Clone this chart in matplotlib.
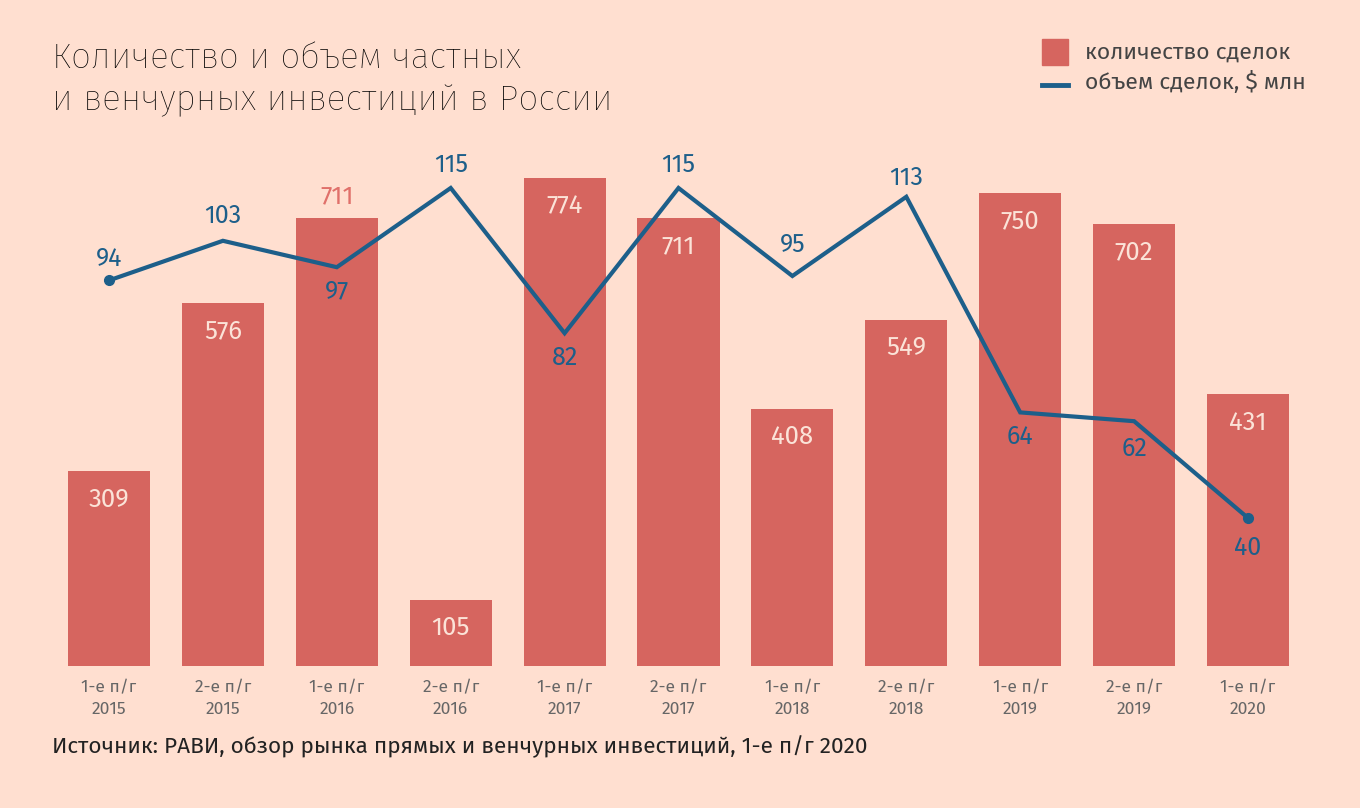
import matplotlib
matplotlib.use("Agg")
import matplotlib.pyplot as plt
from matplotlib.patches import Rectangle
from matplotlib.lines import Line2D

halves = ["1-е п/г", "2-е п/г", "1-е п/г", "2-е п/г", "1-е п/г", "2-е п/г",
          "1-е п/г", "2-е п/г", "1-е п/г", "2-е п/г", "1-е п/г"]
years = ["2015", "2015", "2016", "2016", "2017", "2017",
         "2018", "2018", "2019", "2019", "2020"]
deals = [309, 576, 711, 105, 774, 711, 408, 549, 750, 702, 431]
volume = [94, 103, 97, 115, 82, 115, 95, 113, 64, 62, 40]
# сдвиг подписи линии в пикселях: вверх (+) или вниз (-)
vol_off = [22, 25, -24, 23, -25, 23, 31, 19, -24, -28, -30]

bg = "#FFDFD0"
bar_c = "#D6655F"
line_c = "#1D5F8A"
plt.rcParams['font.family'] = ['Fira Sans', 'Roboto', 'DejaVu Sans']

W, H = 1360, 808
fig = plt.figure(figsize=(W / 100, H / 100), dpi=100, facecolor=bg)
px = 72 / 100  # пиксели -> пункты

# ось занимает от y=120 до y=666 пикселей (сверху)
top_px, base_px = 120, 666
ax = fig.add_axes([0, 1 - base_px / H, 1, (base_px - top_px) / H])
ax.set_facecolor("none")
step = 113.9
x0 = 109
ax.set_xlim(-x0 / step, (W - x0) / step)
ax.set_ylim(0, (base_px - top_px) / 0.63)
for s in ax.spines.values():
    s.set_visible(False)
ax.set_yticks([])
ax.set_xticks(range(len(deals)))
ax.set_xticklabels([f"{h}\n{y}" for h, y in zip(halves, years)],
                   fontsize=12.5, color="#666666", linespacing=1.4)
ax.tick_params(axis="x", length=0, pad=10)

xs = list(range(len(deals)))
ax.bar(xs, deals, width=0.72, color=bar_c, zorder=1)
for x, v in zip(xs, deals):
    if v == 711 and x == 2:
        ax.annotate(str(v), (x, v), xytext=(0, 22 * px), textcoords="offset points",
                    ha="center", va="center", fontsize=18.5, color="#E0706A")
    else:
        ax.annotate(str(v), (x, v), xytext=(0, -28 * px), textcoords="offset points",
                    ha="center", va="center", fontsize=18.5, color="#FBE3D8")

ax2 = ax.twinx()
ax2.set_ylim((694 - base_px) / 4.4, (694 - top_px) / 4.4)
ax2.set_yticks([])
for s in ax2.spines.values():
    s.set_visible(False)
ax2.plot(xs, volume, color=line_c, lw=3, zorder=3, solid_joinstyle="miter")
ax2.plot([xs[0], xs[-1]], [volume[0], volume[-1]], "o", color=line_c, ms=7)
for x, v, o in zip(xs, volume, vol_off):
    ax2.annotate(str(v), (x, v), xytext=(0, o * px), textcoords="offset points",
                 ha="center", va="center", fontsize=18, color=line_c)

fig.text(52 / W, 1 - 58 / H, "Количество и объем частных", fontsize=25.5,
         color="#000000", va="center", fontweight="light")
fig.text(52 / W, 1 - 100 / H, "и венчурных инвестиций в России", fontsize=25.5,
         color="#000000", va="center", fontweight="light")

# легенда
fig.patches.append(Rectangle((1042 / W, 1 - 65 / H), 26 / W, 26 / H,
                             transform=fig.transFigure, color=bar_c))
fig.lines.append(Line2D([1042 / W, 1068 / W], [1 - 85 / H, 1 - 85 / H],
                        transform=fig.transFigure, color=line_c, lw=3.5))
fig.text(1085 / W, 1 - 52 / H, "количество сделок", fontsize=16.5,
         color="#444444", va="center")
fig.text(1085 / W, 1 - 82 / H, "объем сделок, $ млн", fontsize=16.5,
         color="#444444", va="center")

fig.text(52 / W, 1 - 747 / H,
         "Источник: РАВИ, обзор рынка прямых и венчурных инвестиций, 1-е п/г 2020",
         fontsize=16.3, color="#222222", va="center")

fig.savefig("out.png", dpi=100, facecolor=bg)
